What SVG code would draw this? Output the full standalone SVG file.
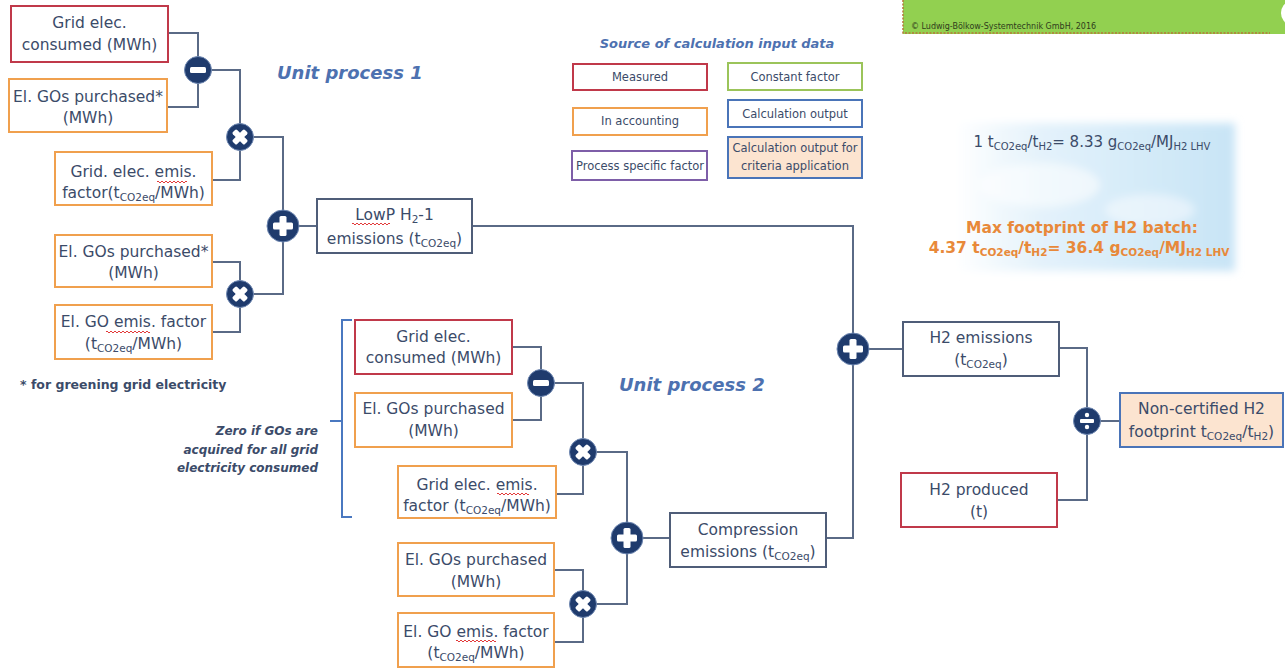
<svg xmlns="http://www.w3.org/2000/svg" width="1285" height="668" viewBox="0 0 1285 668">
<defs>
<style>
.bx{fill:#fff;stroke-width:2}
.red{stroke:#c0394a}
.org{stroke:#f0a04e}
.sl{stroke:#4f5d78}
.blu{stroke:#4a74b8}
.grn{stroke:#9bc45a}
.pur{stroke:#7e5ea8}
.peach{fill:#fce4d0}
.t{font-family:'DejaVu Sans','Liberation Sans',sans-serif;font-size:15.5px;fill:#3b4b69;text-anchor:middle}
.s{font-size:10.5px}
.lg{font-size:11.5px}
.hd{font-family:'DejaVu Sans','Liberation Sans',sans-serif;font-weight:bold;font-style:italic;fill:#4d71b0}
.c{fill:none;stroke:#5a6a86;stroke-width:2}
.op{fill:#1f3b6d;stroke:#6f88b2;stroke-width:1}
.sq{fill:none;stroke:#e23a3a;stroke-width:1}
</style>
<g id="i-plus"><rect x="-10" y="-3.5" width="20" height="7" rx="1.5"/><rect x="-3.5" y="-10" width="7" height="20" rx="1.5"/></g>
<g id="i-x" transform="rotate(45)"><rect x="-8.5" y="-3" width="17" height="6" rx="1.5"/><rect x="-3" y="-8.5" width="6" height="17" rx="1.5"/></g>
<g id="i-minus"><rect x="-8" y="-3" width="16" height="6" rx="1.5"/></g>
<g id="i-div"><rect x="-7" y="-2" width="14" height="4" rx="1"/><circle cx="0" cy="-6" r="2.2"/><circle cx="0" cy="6" r="2.2"/></g>
<linearGradient id="cloudg" x1="0" y1="0" x2="1" y2="0">
<stop offset="0" stop-color="#ffffff"/>
<stop offset="0.3" stop-color="#e4f2fb"/>
<stop offset="0.7" stop-color="#d3eaf8"/>
<stop offset="1" stop-color="#c8e4f6"/>
</linearGradient>
<filter id="blur" x="-10%" y="-10%" width="120%" height="120%"><feGaussianBlur stdDeviation="4"/></filter>
</defs>
<rect width="1285" height="668" fill="#fff"/>

<!-- header -->
<g id="header">
<rect x="903" y="-2" width="385" height="36" fill="#92d050"/>
<path d="M903 0 V33 H1270" fill="none" stroke="#b8763a" stroke-width="1.5" stroke-dasharray="2,1.5"/>
<ellipse cx="1290" cy="13" rx="9" ry="11" fill="#fff"/>
<text x="911" y="29" font-family="'DejaVu Sans','Liberation Sans',sans-serif" font-size="8" fill="#2f3d1c">© Ludwig-Bölkow-Systemtechnik GmbH, 2016</text>
</g>

<!-- cloud background -->
<g id="cloud" filter="url(#blur)">
<rect x="955" y="123" width="280" height="148" fill="url(#cloudg)"/>
<ellipse cx="1040" cy="185" rx="60" ry="22" fill="#fff" opacity="0.55"/>
<ellipse cx="1150" cy="210" rx="45" ry="16" fill="#fff" opacity="0.45"/>
</g>

<!-- connectors -->
<g id="connectors">
<path class="c" d="M168 33 H198 V70"/>
<path class="c" d="M167 107 H198 V70"/>
<path class="c" d="M198 70 H240 V137"/>
<path class="c" d="M212 180 H240 V137"/>
<path class="c" d="M240 137 H283 V226"/>
<path class="c" d="M212 262 H240 V294"/>
<path class="c" d="M212 332 H240 V294"/>
<path class="c" d="M240 294 H283 V226"/>
<path class="c" d="M283 226 H317"/>
<path class="c" d="M472 226 H853 V349"/>
<path class="c" d="M512 347 H541 V383"/>
<path class="c" d="M512 420 H541 V383"/>
<path class="c" d="M541 383 H583 V452"/>
<path class="c" d="M556 494 H583 V452"/>
<path class="c" d="M583 452 H627 V538"/>
<path class="c" d="M554 570 H583 V604"/>
<path class="c" d="M554 642 H583 V604"/>
<path class="c" d="M583 604 H627 V538"/>
<path class="c" d="M627 538 H670"/>
<path class="c" d="M826 538 H853 V349"/>
<path class="c" d="M853 349 H903"/>
<path class="c" d="M1059 348 H1087 V421"/>
<path class="c" d="M1057 500 H1087 V421"/>
<path class="c" d="M1087 421 H1120"/>
<path d="M352 320 H342 V517 H352 M330 421 H342" fill="none" stroke="#4a78c0" stroke-width="2"/>
</g>

<!-- labels -->
<text id="lbl-up1" class="hd" x="277" y="79" font-size="18">Unit process 1</text>
<text id="lbl-up2" class="hd" x="619" y="391" font-size="18">Unit process 2</text>
<text id="lbl-foot" x="20" y="389" font-family="'DejaVu Sans','Liberation Sans',sans-serif" font-size="12.5" font-weight="bold" fill="#3b4b69">* for greening grid electricity</text>
<g id="lbl-zero" font-family="'DejaVu Sans','Liberation Sans',sans-serif" font-size="12" font-weight="bold" font-style="italic" fill="#3b4b69" text-anchor="end">
<text x="318" y="435">Zero if GOs are</text>
<text x="318" y="454">acquired for all grid</text>
<text x="318" y="472">electricity consumed</text>
</g>

<!-- legend -->
<g id="legend">
<text class="hd" x="717" y="48" font-size="13" text-anchor="middle">Source of calculation input data</text>
<g id="lg-measured"><rect class="bx red" x="573" y="64" width="134" height="26"/><text class="t lg" x="640" y="81">Measured</text></g>
<g id="lg-constant"><rect class="bx grn" x="728" y="63" width="134" height="27"/><text class="t lg" x="795" y="81">Constant factor</text></g>
<g id="lg-accounting"><rect class="bx org" x="573" y="108" width="134" height="27"/><text class="t lg" x="640" y="125">In accounting</text></g>
<g id="lg-calc"><rect class="bx blu" x="728" y="100" width="134" height="27"/><text class="t lg" x="795" y="118">Calculation output</text></g>
<g id="lg-process"><rect class="bx pur" x="572" y="151" width="135" height="29"/><text class="t lg" x="640" y="170">Process specific factor</text></g>
<g id="lg-criteria"><rect class="bx blu peach" x="728" y="137" width="134" height="41"/><text class="t lg" x="795" y="152">Calculation output for</text><text class="t lg" x="795" y="170">criteria application</text></g>
</g>

<!-- info texts -->
<g id="info" font-family="'DejaVu Sans','Liberation Sans',sans-serif" text-anchor="middle">
<text x="1092" y="147" font-size="15" fill="#3b4b69">1 t<tspan font-size="10" dy="3">CO2eq</tspan><tspan dy="-3">/t</tspan><tspan font-size="10" dy="3">H2</tspan><tspan dy="-3">= 8.33 g</tspan><tspan font-size="10" dy="3">CO2eq</tspan><tspan dy="-3">/MJ</tspan><tspan font-size="10" dy="3">H2 LHV</tspan></text>
<text x="1082" y="233" font-size="15.5" font-weight="bold" fill="#e8893a">Max footprint of H2 batch:</text>
<text x="1079" y="253" font-size="15.5" font-weight="bold" fill="#e8893a">4.37 t<tspan font-size="10.5" dy="3">CO2eq</tspan><tspan dy="-3">/t</tspan><tspan font-size="10.5" dy="3">H2</tspan><tspan dy="-3">= 36.4 g</tspan><tspan font-size="10.5" dy="3">CO2eq</tspan><tspan dy="-3">/MJ</tspan><tspan font-size="10.5" dy="3">H2 LHV</tspan></text>
</g>

<!-- unit process 1 nodes -->
<g id="n-grid-consumed-1"><rect class="bx red" x="11" y="6" width="157" height="56"/><text class="t" x="89.5" y="28">Grid elec.</text><text class="t" x="89.5" y="50">consumed (MWh)</text></g>
<g id="n-gos-purchased-1a"><rect class="bx org" x="9" y="79" width="158" height="53"/><text class="t" x="88" y="102">El. GOs purchased*</text><text class="t" x="88" y="123">(MWh)</text></g>
<g id="n-grid-factor-1"><rect class="bx org" x="55" y="152" width="157" height="53"/><text class="t" x="133.5" y="177">Grid. elec. emis.</text><text class="t" x="133.5" y="198">factor(t<tspan class="s" dy="3">CO2eq</tspan><tspan dy="-3">/MWh)</tspan></text><path class="sq" d="M157 182 q1 -2 2 0 t2 0 t2 0 t2 0 t2 0 t2 0 t2 0 t2 0 t2 0 t2 0 t2 0 t2 0 t2 0 t2 0 t2 0"/></g>
<g id="n-gos-purchased-1b"><rect class="bx org" x="55" y="235" width="157" height="52"/><text class="t" x="133.5" y="257">El. GOs purchased*</text><text class="t" x="133.5" y="278">(MWh)</text></g>
<g id="n-go-factor-1"><rect class="bx org" x="55" y="305" width="157" height="54"/><text class="t" x="133.5" y="327">El. GO emis. factor</text><text class="t" x="133.5" y="349">(t<tspan class="s" dy="3">CO2eq</tspan><tspan dy="-3">/MWh)</tspan></text><path class="sq" d="M106 332 q1 -2 2 0 t2 0 t2 0 t2 0 t2 0 t2 0 t2 0 t2 0 t2 0 t2 0 t2 0 t2 0 t2 0 t2 0 t2 0 t2 0 t2 0 t2 0 t2 0 t2 0 t2 0 t2 0"/></g>
<g id="n-lowp"><rect class="bx sl" x="317" y="199" width="155" height="54"/><text class="t" x="394.5" y="220">LowP H<tspan class="s" dy="3">2</tspan><tspan dy="-3">-1</tspan></text><text class="t" x="394.5" y="244">emissions (t<tspan class="s" dy="3">CO2eq</tspan><tspan dy="-3">)</tspan></text><path class="sq" d="M352 224 q1 -2 2 0 t2 0 t2 0 t2 0 t2 0 t2 0 t2 0 t2 0 t2 0 t2 0 t2 0 t2 0 t2 0 t2 0 t2 0 t2 0 t2 0 t2 0 t2 0"/></g>

<!-- unit process 2 nodes -->
<g id="n-grid-consumed-2"><rect class="bx red" x="355" y="320" width="157" height="54"/><text class="t" x="433.5" y="342">Grid elec.</text><text class="t" x="433.5" y="363">consumed (MWh)</text></g>
<g id="n-gos-purchased-2a"><rect class="bx org" x="355" y="393" width="157" height="54"/><text class="t" x="433.5" y="414">El. GOs purchased</text><text class="t" x="433.5" y="436">(MWh)</text></g>
<g id="n-grid-factor-2"><rect class="bx org" x="398" y="466" width="158" height="52"/><text class="t" x="477" y="490">Grid elec. emis.</text><text class="t" x="477" y="511">factor (t<tspan class="s" dy="3">CO2eq</tspan><tspan dy="-3">/MWh)</tspan></text><path class="sq" d="M497 494 q1 -2 2 0 t2 0 t2 0 t2 0 t2 0 t2 0 t2 0 t2 0 t2 0 t2 0 t2 0 t2 0 t2 0 t2 0 t2 0 t2 0"/></g>
<g id="n-gos-purchased-2b"><rect class="bx org" x="398" y="543" width="156" height="53"/><text class="t" x="476" y="565">El. GOs purchased</text><text class="t" x="476" y="587">(MWh)</text></g>
<g id="n-go-factor-2"><rect class="bx org" x="398" y="613" width="156" height="54"/><text class="t" x="476" y="637">El. GO emis. factor</text><text class="t" x="476" y="658">(t<tspan class="s" dy="3">CO2eq</tspan><tspan dy="-3">/MWh)</tspan></text><path class="sq" d="M456 641 q1 -2 2 0 t2 0 t2 0 t2 0 t2 0 t2 0 t2 0 t2 0 t2 0 t2 0 t2 0 t2 0 t2 0 t2 0 t2 0 t2 0 t2 0 t2 0 t2 0 t2 0"/></g>
<g id="n-compression"><rect class="bx sl" x="670" y="513" width="156" height="54"/><text class="t" x="748" y="535">Compression</text><text class="t" x="748" y="557">emissions (t<tspan class="s" dy="3">CO2eq</tspan><tspan dy="-3">)</tspan></text></g>

<!-- final nodes -->
<g id="n-h2-emissions"><rect class="bx sl" x="903" y="322" width="156" height="54"/><text class="t" x="981" y="343">H2 emissions</text><text class="t" x="981" y="365">(t<tspan class="s" dy="3">CO2eq</tspan><tspan dy="-3">)</tspan></text></g>
<g id="n-h2-produced"><rect class="bx red" x="901" y="473" width="156" height="54"/><text class="t" x="979" y="495">H2 produced</text><text class="t" x="979" y="517">(t)</text></g>
<g id="n-footprint"><rect class="bx blu peach" x="1120" y="393" width="163" height="54"/><text class="t" x="1201.5" y="414">Non-certified H2</text><text class="t" x="1201.5" y="437">footprint t<tspan class="s" dy="3">CO2eq</tspan><tspan dy="-3">/t</tspan><tspan class="s" dy="3">H2</tspan><tspan dy="-3">)</tspan></text></g>

<!-- operators -->
<g id="op-minus-1"><circle class="op" cx="198" cy="70" r="13.5"/><use href="#i-minus" x="198" y="70" fill="#fff"/></g>
<g id="op-times-1a"><circle class="op" cx="240" cy="137" r="13.5"/><use href="#i-x" x="240" y="137" fill="#fff"/></g>
<g id="op-times-1b"><circle class="op" cx="240" cy="294" r="13.5"/><use href="#i-x" x="240" y="294" fill="#fff"/></g>
<g id="op-plus-1"><circle class="op" cx="283" cy="226" r="16"/><use href="#i-plus" x="283" y="226" fill="#fff"/></g>
<g id="op-minus-2"><circle class="op" cx="541" cy="383" r="13.5"/><use href="#i-minus" x="541" y="383" fill="#fff"/></g>
<g id="op-times-2a"><circle class="op" cx="583" cy="452" r="13.5"/><use href="#i-x" x="583" y="452" fill="#fff"/></g>
<g id="op-times-2b"><circle class="op" cx="583" cy="604" r="13.5"/><use href="#i-x" x="583" y="604" fill="#fff"/></g>
<g id="op-plus-2"><circle class="op" cx="627" cy="538" r="16"/><use href="#i-plus" x="627" y="538" fill="#fff"/></g>
<g id="op-plus-3"><circle class="op" cx="853" cy="349" r="16"/><use href="#i-plus" x="853" y="349" fill="#fff"/></g>
<g id="op-divide"><circle class="op" cx="1087" cy="421" r="13.5"/><use href="#i-div" x="1087" y="421" fill="#fff"/></g>
</svg>
